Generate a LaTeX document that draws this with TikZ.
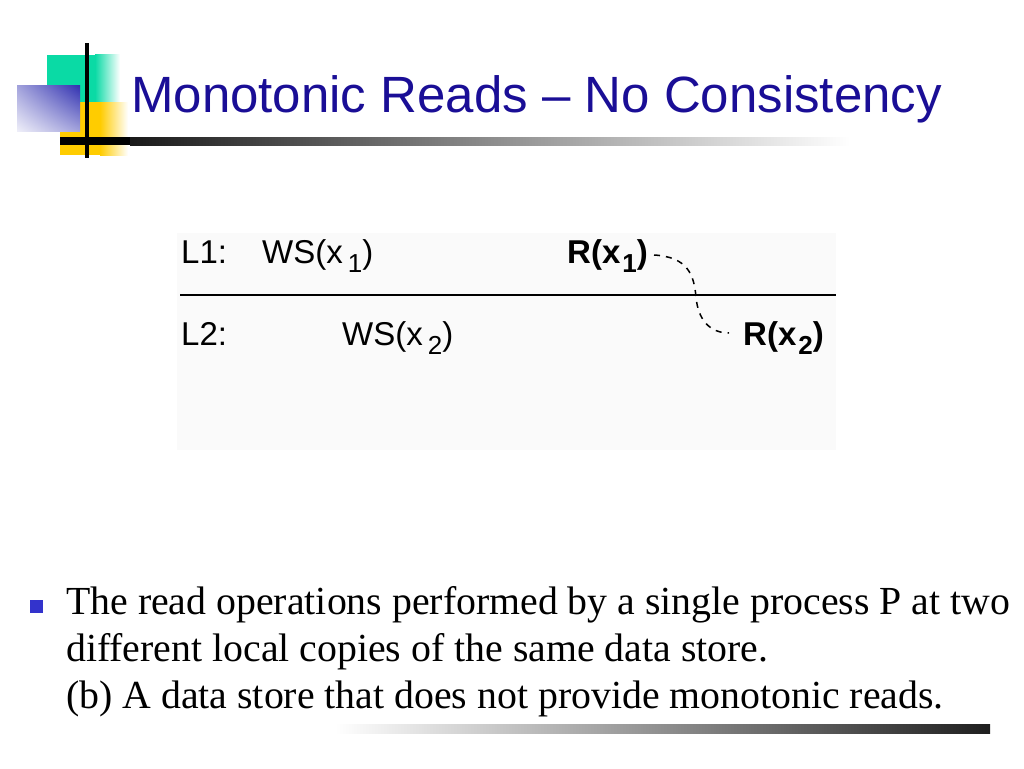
\documentclass[tikz,border=0pt]{standalone}
\usepackage{fontspec}
\usepackage{xcolor}
\setmainfont{Liberation Serif}
\newfontfamily\arialfont{Liberation Sans}
\definecolor{titleblue}{RGB}{26,14,150}
\definecolor{logogreen}{RGB}{10,218,165}
\definecolor{logoyellow}{RGB}{255,204,0}
\definecolor{logoblue}{RGB}{48,48,176}
\definecolor{bulletblue}{RGB}{51,51,204}
\newcommand{\lowsub}[1]{\raisebox{-9pt}{\fontsize{26}{26}\selectfont #1}}
\usetikzlibrary{positioning,shadings}

\begin{document}
\begin{tikzpicture}[x=1pt,y=-1pt,
    lbl/.style={anchor=base west,inner sep=0pt,font=\arialfont\fontsize{33}{33}\selectfont},
    rd/.style={lbl,font=\arialfont\bfseries\fontsize{33}{33}\selectfont}]
    \useasboundingbox (0,0) rectangle (1024,768);
    % logo
    \fill[logogreen] (47,55) rectangle (95,102);
    \shade[left color=logogreen,right color=white] (95,55) rectangle (120,102);
    \fill[logoyellow] (60,102) rectangle (100,155);
    \shade[left color=logoyellow,right color=white] (100,102) rectangle (128,155);
    \shade[upper right=logoblue,lower left=logoblue!8,upper left=logoblue!45,lower right=logoblue!45] (17,85) rectangle (80,131);
    \fill[black] (60,137) rectangle (130,145);
    \shade[left color=black!90,right color=white] (130,137) rectangle (850,145);
    \fill[black] (85,43) rectangle (89,158);
    \node[anchor=base west,inner sep=0pt,text=titleblue,font=\arialfont\fontsize{51}{51}\selectfont] (title) at (131,112) {Monotonic Reads \textendash{} No Consistency};

    % diagram
    \fill[black!2] (177,233) rectangle (836,450);
    \node[lbl] (L1) at (181,263) {L1:};
    \node[lbl] (WS1) at (262,263) {WS(x\hspace{5pt}\lowsub{1})};
    \node[rd] (R1) at (567,263) {R(x\hspace{2pt}\lowsub{1})};
    \node[lbl] (L2) at (181,345) {L2:};
    \node[lbl] (WS2) at (342,345) {WS(x\hspace{5pt}\lowsub{2})};
    \node[rd] (R2) at (743,345) {R(x\hspace{2pt}\lowsub{2})};
    \coordinate (sepL) at (180,295);
    \coordinate (sepR) at (836,295);
    \draw[line width=1.5pt] (sepL) -- (sepR);
    \draw[line width=1.5pt,dash pattern=on 6pt off 6pt] ([xshift=6pt,yshift=8pt]R1.base east) .. controls (688,257) and (694,275) .. (696,297) .. controls (698,320) and (710,333) .. ([xshift=-14pt,yshift=12pt]R2.base west);

    % bullet text
    \node[fill=bulletblue,minimum size=12.5pt,inner sep=0pt] (dot) at (36.5,606.5) {};
    \node[anchor=base west,inner sep=0pt,align=left,font=\fontsize{39.8}{47}\selectfont] (body) at (66,708)
        {The read operations performed by a single process P at two\\
         different local copies of the same data store.\\
         (b) A data store that does not provide monotonic reads.};
    \shade[left color=white,right color=black!88] (335,724) rectangle (990,733);
\end{tikzpicture}
\end{document}
